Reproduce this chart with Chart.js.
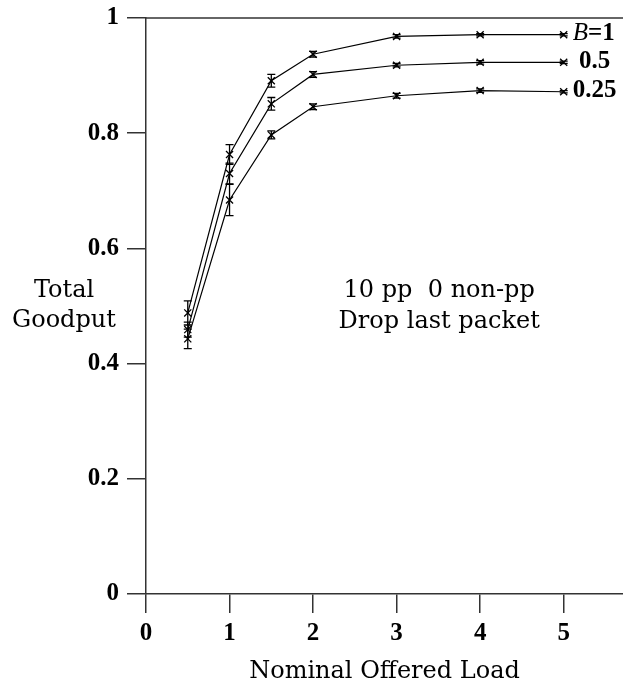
<!DOCTYPE html>
<html>
<head>
<meta charset="utf-8">
<script src="https://cdn.jsdelivr.net/npm/chart.js@4/dist/chart.umd.min.js"></script>
<style>
  html, body { margin: 0; padding: 0; background: #ffffff; }
  canvas { display: block; }
</style>
</head>
<body>
<canvas id="goodput" width="623" height="689"></canvas>
<script>
// Offered load (x) and total goodput (y) for the three B settings
const loads = [0.5, 1, 1.5, 2, 3, 4, 5];

const goodputB1   = [0.488, 0.763, 0.891, 0.937, 0.968, 0.971, 0.971];
const errorB1     = [0.021, 0.017, 0.011, 0.005, 0.003, 0.002, 0.002];

const goodputB05  = [0.459, 0.730, 0.851, 0.902, 0.918, 0.923, 0.923];
const errorB05    = [0.013, 0.018, 0.011, 0.005, 0.003, 0.003, 0.002];

const goodputB025 = [0.443, 0.684, 0.797, 0.846, 0.865, 0.874, 0.872];
const errorB025   = [0.017, 0.027, 0.007, 0.005, 0.004, 0.003, 0.002];

// end-of-curve names (the short one is padded so the digits line up)
const seriesLabels = ['B=1', ' 0.5', '0.25'];
const xTickValues = [0, 1, 2, 3, 4, 5];
const yTickValues = [0, 0.2, 0.4, 0.6, 0.8, 1];
const xTitle = 'Nominal Offered Load';
const yTitleLines = ['Total', 'Goodput'];
const noteLines = ['10 pp  0 non-pp', 'Drop last packet'];

const INK = '#000000';
const AXIS = '#333333';
const TICK_FONT = { family: '"Liberation Serif", serif', size: 25, weight: 'bold' };
const TEXT_FONT = '24px "DejaVu Serif", serif';

const allGoodput = [goodputB1, goodputB05, goodputB025];
const allErrors = [errorB1, errorB05, errorB025];

const datasets = allGoodput.map((vals, i) => ({
  label: seriesLabels[i].trim(),
  data: loads.map((x, j) => ({ x: x, y: vals[j] })),
  errors: allErrors[i],
  borderColor: INK,
  backgroundColor: INK,
  borderWidth: 1.2,
  tension: 0,
  pointStyle: 'crossRot',
  pointRadius: 5,
  pointBorderWidth: 1.3,
  pointBorderColor: INK,
  fill: false
}));

// Vertical error bars with short caps
const errorBarPlugin = {
  id: 'errorBars',
  afterDatasetsDraw(chart) {
    const { ctx, scales: { x, y } } = chart;
    ctx.save();
    ctx.strokeStyle = INK;
    ctx.lineWidth = 1.3;
    chart.data.datasets.forEach(ds => {
      ds.data.forEach((p, j) => {
        const e = ds.errors[j];
        const px = x.getPixelForValue(p.x);
        const top = y.getPixelForValue(p.y + e);
        const bot = y.getPixelForValue(p.y - e);
        ctx.beginPath();
        ctx.moveTo(px, top); ctx.lineTo(px, bot);
        ctx.moveTo(px - 4, top); ctx.lineTo(px + 4, top);
        ctx.moveTo(px - 4, bot); ctx.lineTo(px + 4, bot);
        ctx.stroke();
      });
    });
    ctx.restore();
  }
};

// Frame line along the top, series names, axis caption and note
const annotationPlugin = {
  id: 'annotations',
  afterDraw(chart) {
    const { ctx, chartArea, scales: { x, y } } = chart;
    ctx.save();

    // top frame line
    ctx.strokeStyle = AXIS;
    ctx.lineWidth = 1.5;
    const yTop = y.getPixelForValue(1);
    ctx.beginPath();
    ctx.moveTo(chartArea.left, yTop);
    ctx.lineTo(chart.width, yTop);
    ctx.stroke();

    // series names at the end of each curve
    ctx.fillStyle = INK;
    ctx.textBaseline = 'middle';
    ctx.textAlign = 'left';
    const tickFont = `${TICK_FONT.weight} ${TICK_FONT.size}px ${TICK_FONT.family}`;
    chart.data.datasets.forEach((ds, i) => {
      const last = ds.data[ds.data.length - 1];
      const px = x.getPixelForValue(last.x) + 9;
      const py = y.getPixelForValue(last.y) - 1;
      const name = seriesLabels[i];
      if (name.startsWith('B')) {
        ctx.font = `italic ${TICK_FONT.size}px ${TICK_FONT.family}`;
        ctx.fillText('B', px, py);
        const w = ctx.measureText('B').width;
        ctx.font = tickFont;
        ctx.fillText(name.slice(1), px + w, py);
      } else {
        ctx.font = tickFont;
        ctx.fillText(name, px, py);
      }
    });

    // horizontal y-axis caption
    ctx.font = TEXT_FONT;
    ctx.textAlign = 'center';
    ctx.textBaseline = 'alphabetic';
    const capX = chartArea.left - 82;
    const capY = y.getPixelForValue(0.516);
    yTitleLines.forEach((t, k) => ctx.fillText(t, capX, capY + k * 30));

    // note inside the plot
    const noteX = x.getPixelForValue(3.51);
    const noteY = y.getPixelForValue(0.516);
    noteLines.forEach((t, k) => ctx.fillText(t, noteX, noteY + k * 31.5));

    ctx.restore();
  }
};

new Chart(document.getElementById('goodput'), {
  type: 'line',
  data: { datasets: datasets },
  options: {
    responsive: false,
    animation: false,
    devicePixelRatio: 1,
    layout: { autoPadding: false, padding: { top: 18, right: 0, left: 0, bottom: 0 } },
    plugins: {
      legend: { display: false },
      tooltip: { enabled: false }
    },
    scales: {
      x: {
        type: 'linear',
        min: 0,
        max: 5.71,
        afterBuildTicks(scale) {
          scale.ticks = xTickValues.map(v => ({ value: v }));
        },
        afterFit(scale) {
          scale.height = 95;
          scale.paddingLeft = 0;
          scale.paddingRight = 0;
        },
        ticks: {
          color: INK,
          font: TICK_FONT,
          padding: 6,
          maxRotation: 0,
          callback: v => String(v)
        },
        grid: {
          drawOnChartArea: false,
          drawTicks: true,
          tickLength: 19,
          color: AXIS,
          lineWidth: 1.5
        },
        border: { display: true, color: AXIS, width: 1.5 },
        title: {
          display: true,
          text: xTitle,
          color: INK,
          font: { family: '"DejaVu Serif", serif', size: 24, weight: 'normal' },
          padding: { top: 0, bottom: 3 }
        }
      },
      y: {
        type: 'linear',
        min: 0,
        max: 1,
        afterBuildTicks(scale) {
          scale.ticks = yTickValues.map(v => ({ value: v }));
        },
        afterFit(scale) {
          scale.width = 146;
          scale.paddingTop = 0;
          scale.paddingBottom = 0;
        },
        ticks: {
          color: INK,
          font: TICK_FONT,
          padding: 8,
          callback: v => String(v)
        },
        grid: {
          drawOnChartArea: false,
          drawTicks: true,
          tickLength: 19,
          color: AXIS,
          lineWidth: 1.5
        },
        border: { display: true, color: AXIS, width: 1.5 }
      }
    }
  },
  plugins: [errorBarPlugin, annotationPlugin]
});
</script>
</body>
</html>
